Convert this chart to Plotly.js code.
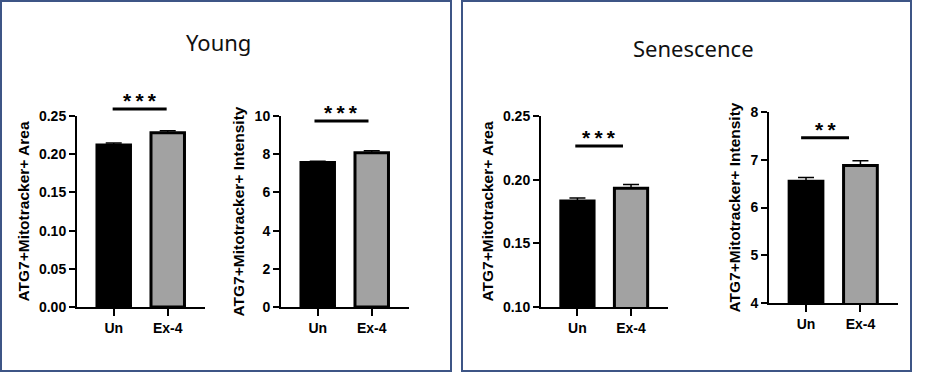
<!DOCTYPE html>
<html>
<head>
<meta charset="utf-8">
<script src="https://cdn.plot.ly/plotly-3.0.1.min.js"></script>
<style>html,body{margin:0;padding:0;background:#fff;}#chart{width:944px;height:373px;}</style>
</head>
<body>
<div id="chart"></div>
<script>
// ---- data ----
const categories = ["Un", "Ex-4"];
const panelTitles = ["Young", "Senescence"];
const yTitles = ["ATG7+Mitotracker+ Area", "ATG7+Mitotracker+ Intensity", "ATG7+Mitotracker+ Area", "ATG7+Mitotracker+ Intensity"];
const youngArea = [0.212, 0.228];
const youngAreaErr = [0.0025, 0.0027];
const youngIntensity = [7.56, 8.07];
const youngIntensityErr = [0.07, 0.11];
const senArea = [0.1832, 0.1932];
const senAreaErr = [0.0025, 0.0031];
const senIntensity = [6.55, 6.88];
const senIntensityErr = [0.08, 0.10];
const yRanges = [[0, 0.25], [0, 10], [0.10, 0.25], [4, 8]];
const yTickVals = [[0, 0.05, 0.10, 0.15, 0.20, 0.25], [0, 2, 4, 6, 8, 10], [0.10, 0.15, 0.20, 0.25], [4, 5, 6, 7, 8]];
const yTickFormats = [".2f", "d", ".2f", "d"];
const sigLabels = ["***", "***", "***", "**"];
const sigY = [0.2592, 9.74, 0.2264, 7.46];
const sigX0 = [-0.02, -0.06, -0.04, -0.09];
const sigX1 = [0.98, 0.94, 0.85, 0.79];

const values = [youngArea, youngIntensity, senArea, senIntensity];
const errs = [youngAreaErr, youngIntensityErr, senAreaErr, senIntensityErr];

// ---- layout geometry (pixels) ----
const W = 944, H = 373;
const xPix = [[77, 205], [281, 409], [541, 668], [769, 898]];
const yPix = [[116, 307], [116, 307], [116, 307], [112, 303]];
const xRange = [-0.68, 1.69];
const px = v => v / W, py = v => 1 - v / H;

const FONT = "Liberation Sans, Arial, sans-serif";
const traces = [];
const layout = {
  width: W, height: H,
  margin: {l: 0, r: 0, t: 0, b: 0},
  paper_bgcolor: "#ffffff", plot_bgcolor: "#ffffff",
  showlegend: false,
  shapes: [], annotations: []
};

for (let i = 0; i < 4; i++) {
  const s = i === 0 ? "" : String(i + 1);
  traces.push({
    type: "bar", x: categories, y: values[i],
    xaxis: "x" + s, yaxis: "y" + s,
    width: 0.62,
    marker: {color: ["#000000", "#a2a2a2"], line: {color: "#000000", width: 3}},
    error_y: {type: "data", array: errs[i], arrayminus: [0, 0], symmetric: false,
              color: "#000000", thickness: 1.5, width: 8},
    hoverinfo: "none"
  });
  layout["xaxis" + s] = {
    domain: [px(xPix[i][0]), px(xPix[i][1])],
    anchor: "y" + s, type: "category", range: xRange,
    showline: true, linewidth: 2, linecolor: "#000",
    ticks: "outside", ticklen: 7, tickwidth: 2, tickcolor: "#000",
    showgrid: false, zeroline: false, fixedrange: true,
    tickfont: {family: FONT, size: 14, color: "#000", weight: "bold"}
  };
  layout["yaxis" + s] = {
    domain: [py(yPix[i][1]), py(yPix[i][0])],
    anchor: "x" + s, range: yRanges[i],
    tickvals: yTickVals[i], tickformat: yTickFormats[i],
    showline: true, linewidth: 2, linecolor: "#000",
    ticks: "outside", ticklen: 6, tickwidth: 2, tickcolor: "#000",
    showgrid: false, zeroline: false, fixedrange: true,
    tickfont: {family: FONT, size: 14, color: "#000", weight: "bold"},
    title: {text: yTitles[i], standoff: 6, font: {family: FONT, size: 15.5, color: "#000", weight: "bold"}}
  };
  // significance bar, placed in axis-domain units converted from data values
  const toDx = v => (v - xRange[0]) / (xRange[1] - xRange[0]);
  const toDy = v => (v - yRanges[i][0]) / (yRanges[i][1] - yRanges[i][0]);
  layout.shapes.push({
    type: "line", xref: "x" + s + " domain", yref: "y" + s + " domain",
    x0: toDx(sigX0[i]), x1: toDx(sigX1[i]), y0: toDy(sigY[i]), y1: toDy(sigY[i]),
    line: {color: "#000", width: 3}
  });
  layout.annotations.push({
    xref: "x" + s + " domain", yref: "y" + s + " domain",
    x: toDx((sigX0[i] + sigX1[i]) / 2), y: toDy(sigY[i]),
    text: sigLabels[i].split("").join("\u2009"),
    showarrow: false, xanchor: "center", yanchor: "bottom", yshift: -5,
    font: {family: FONT, size: 21, color: "#000", weight: "bold"}
  });
}

// panel titles
const titleX = [218, 693], titleY = [42, 48];
for (let k = 0; k < 2; k++) {
  layout.annotations.push({
    xref: "paper", yref: "paper", x: px(titleX[k]), y: py(titleY[k]),
    text: panelTitles[k], showarrow: false, xanchor: "center", yanchor: "middle",
    font: {family: "Noto Sans, Open Sans, sans-serif", size: 22, color: "#111"}
  });
}

// panel frames
const frames = [[1, 1, 451, 371], [462, 1, 911, 371]];
frames.forEach(f => layout.shapes.push({
  type: "rect", xref: "paper", yref: "paper",
  x0: px(f[0]), x1: px(f[2]), y0: py(f[3]), y1: py(f[1]),
  line: {color: "#3d5586", width: 2}, fillcolor: "rgba(0,0,0,0)", layer: "above"
}));

Plotly.newPlot("chart", traces, layout, {displayModeBar: false, staticPlot: true});
</script>
</body>
</html>
